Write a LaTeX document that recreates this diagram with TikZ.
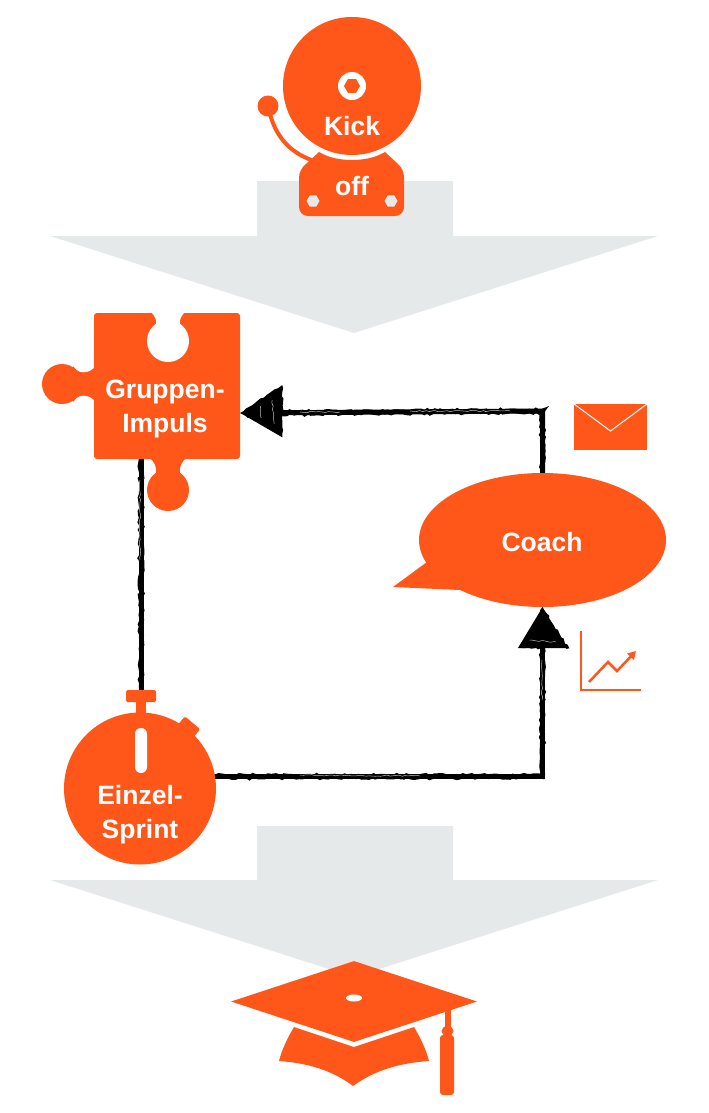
\documentclass[tikz,border=0pt]{standalone}
\usepackage{fontspec}
\setmainfont{Liberation Sans}
\usetikzlibrary{arrows.meta,calc,shapes.geometric,decorations.pathmorphing}
\definecolor{brand}{HTML}{FF5719}
\definecolor{pale}{HTML}{E6E9E9}
\tikzset{
  label text/.style={text=white,font=\fontsize{26.5}{34}\selectfont\bfseries,align=center,inner sep=0pt},
  brandfill/.style={fill=brand,draw=none},
  paleband/.style={fill=pale,draw=none},
  scratch/.style={decorate,decoration={random steps,segment length=3.5pt,amplitude=1.3pt},black},
  conn/.style={draw=black,line width=5pt,line join=miter},
  texture/.style={white,line width=0.5pt,opacity=0.75,decorate,decoration={random steps,segment length=3pt,amplitude=0.7pt}},
}
\begin{document}
\begin{tikzpicture}[x=1pt,y=-1pt]
\useasboundingbox (0,0) rectangle (709,1113);
\fill[white] (0,0) rectangle (709,1113);
% grey arrows
\fill[paleband] (257,181) -- (453,181) -- (453,236) -- (658,236) -- (354,333) -- (50,236) -- (257,236) -- cycle;
\fill[paleband] (257,826) -- (453,826) -- (453,880) -- (658,880) -- (354,977) -- (50,880) -- (257,880) -- cycle;
% bell
\draw[brand,line width=4pt] (268,106) .. controls (274,135) and (288,152) .. (314,161);
\fill[brandfill] (268,106) circle[radius=10.5pt];
\node[circle,brandfill,minimum size=138pt,inner sep=0pt] (bell) at (352,86) {};
\fill[white] (352,86) circle[radius=14pt];
\node[regular polygon,regular polygon sides=6,brandfill,minimum size=16pt,inner sep=0pt] (bellhex) at (352,86) {};
\fill[brandfill] (319,152) .. controls (329,158) and (341,160) .. (352,160) .. controls (363,160) and (375,158) .. (385,152)
  -- (398,164) .. controls (402,168) and (404,172) .. (404,178) -- (404,207) .. controls (404,212) and (400,216) .. (395,216)
  -- (308,216) .. controls (303,216) and (299,212) .. (299,207) -- (299,178) .. controls (299,172) and (302,167) .. (306,164) -- cycle;
\node[regular polygon,regular polygon sides=6,fill=pale,minimum size=13pt,inner sep=0pt] (bolta) at (313,201) {};
\node[regular polygon,regular polygon sides=6,fill=pale,minimum size=13pt,inner sep=0pt] (boltb) at (391,201) {};
\node[label text] (kick) at (352,126) {Kick};
\node[label text] (off) at (352,186) {off};
% stopwatch
\node[circle,brandfill,minimum size=152pt,inner sep=0pt] (watch) at (140,788.5) {};
\node[brandfill,minimum width=30pt,minimum height=12pt,rounded corners=1.5pt,inner sep=0pt] (knob) at (141,696) {};
\fill[brandfill] (136,700) rectangle (146,716);
\node[brandfill,minimum width=20pt,minimum height=11pt,rounded corners=1.5pt,inner sep=0pt,rotate=-40] (button) at (189,727) {};
\fill[white,rounded corners=5.9pt] (135,728) rectangle (147,773);
\node[label text] (sprint) at (140,815) {Einzel-\\Sprint};
% connectors
\draw[conn] (knob.north |- 0,459) -- (knob.north);
\draw[scratch,line width=4.5pt] (knob.north |- 0,459) -- (knob.north);
% puzzle
\fill[brandfill] (62,384) circle[radius=20pt];
\fill[brandfill] (95,368) -- (94,368) .. controls (90,372) and (85,373) .. (80,372) .. controls (77,371) and (75,369) .. (73,366)
  -- (73,402) .. controls (75,399) and (77,397) .. (80,396) .. controls (85,395) and (90,396) .. (94,400) -- (95,400) -- cycle;
\fill[brandfill] (168,490) circle[radius=21pt];
\fill[brandfill] (150,458) .. controls (154,462) and (157,466) .. (156,474) -- (180,474) .. controls (179,466) and (182,462) .. (186,458) -- cycle;
\node[brandfill,minimum width=146pt,minimum height=146pt,rounded corners=3pt,inner sep=0pt] (puzzle) at (167,386) {};
\fill[white] (168,341) circle[radius=21pt];
\fill[white] (151,312) .. controls (155,316) and (157,320) .. (156,325) -- (180,325) .. controls (179,320) and (181,316) .. (185,312) -- cycle;
\node[label text] (impuls) at (165,409) {Gruppen-\\Impuls};
% coach
\node[ellipse,brandfill,minimum width=247pt,minimum height=134pt,inner sep=0pt] (coach) at (542.5,540) {};
\fill[brandfill] (393,587) -- (427,562) -- (470,590) -- (460,590) -- cycle;
\node[label text] (coachtext) at (542,542) {Coach};
% connectors with arrowheads
\draw[conn,-{Triangle[length=42pt,width=48pt]}] (coach.north) -- ($(coach.north |- puzzle.east)+(0,25)$) -- ($(puzzle.east)+(0,27)$);
\draw[scratch,line width=4.5pt] (coach.north) -- ($(coach.north |- puzzle.east)+(0,25)$) -- ($(puzzle.east)+(40,27)$);
\fill[scratch] ($(puzzle.east)+(0,27)$) -- ++(42,-28) -- ++(0,48) -- cycle;
\draw[texture] ($(puzzle.east)+(32,14)$) -- ++(2,24);
\draw[texture] ($(puzzle.east)+(20,20)$) -- ++(1,12);
\draw[texture] (510,411) -- (410,411);
\draw[texture] (340,412) -- (300,412);
\draw[conn,-{Triangle[length=41pt,width=48pt]}] (watch.9) -| (coach.south);
\draw[scratch,line width=4.5pt] (watch.9) -| ($(coach.south)+(0,40)$);
\fill[scratch] (coach.south) -- ++(-21,41) -- ++(48,0) -- cycle;
\draw[texture] (530,640) -- (556,642);
\draw[texture] (300,775) -- (420,776);
\draw[texture] (542,700) -- (542,660);
\draw[texture] (140,560) -- (140,480);
% envelope
\node[brandfill,minimum width=73pt,minimum height=46pt,inner sep=0pt] (mail) at (610.5,427) {};
\draw[white,line width=1pt] (mail.north west) -- (610.5,431) -- (mail.north east);
% chart
\draw[brand,line width=2.8pt] (581,631) -- (581,690) -- (641,690);
\draw[brand,line width=2.5pt,-{Triangle[length=8pt,width=9pt]}] (589,682) -- (608,662) -- (617,671) -- (636,651);
% cap
\fill[brandfill] (294,1027) -- (354,1047) -- (414,1027) .. controls (420,1037) and (426,1049) .. (429,1061)
  .. controls (400,1063) and (375,1070) .. (353,1086) .. controls (332,1070) and (307,1063) .. (279,1061)
  .. controls (282,1049) and (288,1037) .. (294,1027) -- cycle;
\node[diamond,brandfill,minimum width=246pt,minimum height=81pt,inner sep=0pt] (cap) at (354,1001.5) {};
\node[ellipse,fill=white,minimum width=16pt,minimum height=7pt,inner sep=0pt] (hole) at (354,998) {};
\fill[brandfill] (445,1005) rectangle (451,1032);
\fill[brandfill] (447.5,1031) ellipse[x radius=6pt,y radius=5pt];
\fill[brandfill,rounded corners=3pt] (440,1035) rectangle (454,1095);
\end{tikzpicture}
\end{document}
